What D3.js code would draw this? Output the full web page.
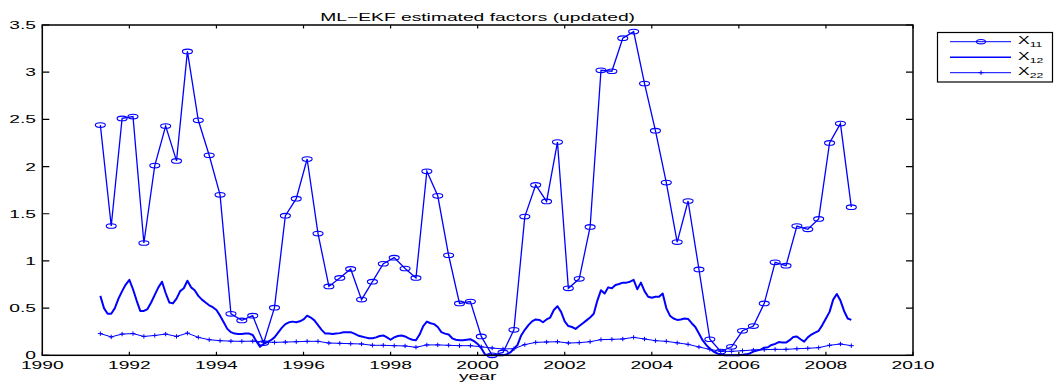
<!DOCTYPE html>
<html>
<head>
<meta charset="utf-8">
<script src="https://cdn.jsdelivr.net/npm/d3@7"></script>
<style>
  html, body { margin: 0; padding: 0; background: #fff; }
  svg { display: block; }
  text { font-family: "Liberation Sans", Arial, Helvetica, sans-serif; fill: #000; }
</style>
</head>
<body>
<svg id="chart" width="1055" height="383"></svg>
<script>
// Quarterly series (start May 1991, step one quarter)
const quarterStart = 1991 + 4 / 12;
const x11Values = [
  2.44, 1.37, 2.51, 2.53, 1.19, 2.01, 2.43, 2.06, 3.22, 2.49,
  2.12, 1.70, 0.44, 0.37, 0.42, 0.13, 0.505, 1.48, 1.66, 2.08,
  1.29, 0.73, 0.82, 0.915, 0.59, 0.78, 0.97, 1.035, 0.92, 0.82,
  1.95, 1.69, 1.06, 0.55, 0.57, 0.20, 0.0, 0.03, 0.27, 1.47,
  1.805, 1.63, 2.26, 0.71, 0.81, 1.36, 3.02, 3.01, 3.36, 3.43,
  2.88, 2.38, 1.83, 1.20, 1.635, 0.91, 0.17, 0.04, 0.09, 0.26,
  0.31, 0.55, 0.985, 0.95, 1.37, 1.335, 1.445, 2.25, 2.455, 1.57
];
const x22Values = [
  0.23, 0.195, 0.225, 0.23, 0.20, 0.21, 0.225, 0.20, 0.235, 0.19,
  0.165, 0.155, 0.15, 0.148, 0.15, 0.14, 0.137, 0.14, 0.144, 0.148,
  0.148, 0.13, 0.127, 0.123, 0.12, 0.106, 0.106, 0.102, 0.099, 0.085,
  0.11, 0.11, 0.106, 0.102, 0.102, 0.09, 0.077, 0.067, 0.07, 0.113,
  0.137, 0.141, 0.144, 0.13, 0.134, 0.144, 0.166, 0.169, 0.173, 0.19,
  0.173, 0.155, 0.148, 0.132, 0.116, 0.088, 0.063, 0.042, 0.042, 0.049,
  0.056, 0.06, 0.063, 0.063, 0.07, 0.074, 0.081, 0.106, 0.12, 0.102
];

// Monthly series (same start, step one month)
const monthStart = 1991 + 4 / 12;
const x12Values = [
  0.63, 0.50, 0.44, 0.44, 0.50, 0.60, 0.68, 0.75, 0.80, 0.70,
  0.58, 0.47, 0.47, 0.49, 0.56, 0.64, 0.72, 0.78, 0.66, 0.56,
  0.55, 0.60, 0.68, 0.71, 0.79, 0.72, 0.69, 0.63, 0.59, 0.56,
  0.53, 0.51, 0.48, 0.42, 0.35, 0.28, 0.245, 0.23, 0.225, 0.225,
  0.23, 0.23, 0.215, 0.15, 0.09, 0.12, 0.14, 0.16, 0.19, 0.24,
  0.29, 0.33, 0.35, 0.357, 0.35, 0.36, 0.38, 0.42, 0.40, 0.37,
  0.32, 0.27, 0.23, 0.23, 0.225, 0.23, 0.235, 0.245, 0.245, 0.245,
  0.23, 0.21, 0.20, 0.19, 0.18, 0.18, 0.19, 0.205, 0.21, 0.19,
  0.165, 0.19, 0.205, 0.21, 0.20, 0.18, 0.165, 0.16, 0.22, 0.31,
  0.357, 0.34, 0.33, 0.30, 0.245, 0.23, 0.22, 0.18, 0.165, 0.16,
  0.16, 0.165, 0.17, 0.15, 0.12, 0.075, 0.01, 0, 0, 0,
  0, 0, 0.01, 0.03, 0.07, 0.11, 0.21, 0.27, 0.32, 0.36,
  0.38, 0.375, 0.35, 0.38, 0.40, 0.48, 0.52, 0.46, 0.36, 0.31,
  0.30, 0.28, 0.31, 0.34, 0.37, 0.40, 0.44, 0.58, 0.69, 0.655,
  0.72, 0.71, 0.745, 0.755, 0.77, 0.77, 0.78, 0.80, 0.70, 0.77,
  0.68, 0.62, 0.61, 0.62, 0.62, 0.655, 0.50, 0.42, 0.39, 0.375,
  0.38, 0.39, 0.385, 0.34, 0.30, 0.23, 0.16, 0.11, 0.07, 0.04,
  0.02, 0.01, 0, 0, 0, 0, 0, 0.005, 0.01, 0.02,
  0.04, 0.05, 0.06, 0.08, 0.085, 0.11, 0.12, 0.14, 0.135, 0.135,
  0.16, 0.195, 0.20, 0.17, 0.145, 0.19, 0.22, 0.24, 0.26, 0.32,
  0.39, 0.46, 0.59, 0.65, 0.58, 0.47, 0.39, 0.375
];

const xTicks = [1990, 1992, 1994, 1996, 1998, 2000, 2002, 2004, 2006, 2008, 2010];
const yTicks = [0, 0.5, 1, 1.5, 2, 2.5, 3, 3.5];
const yTickLabels = ["0", "0.5", "1", "1.5", "2", "2.5", "3", "3.5"];
const legendLabels = [["X", "11"], ["X", "12"], ["X", "22"]];
const titleText = "ML\u2212EKF estimated factors (updated)";
const xLabelText = "year";

const blue = "#0000ff";
const stretch = 1.75;   // wide Helvetica-like lettering

const svg = d3.select("#chart");
const plot = { left: 42.3, right: 913, top: 25, bottom: 355.3 };

const x = d3.scaleLinear().domain([1990, 2010]).range([plot.left, plot.right]);
const y = d3.scaleLinear().domain([0, 3.5]).range([plot.bottom, plot.top]);

const quarterly = x11Values.map((v, i) => ({ t: quarterStart + i * 0.25, x11: v, x22: x22Values[i] }));
const monthly = x12Values.map((v, i) => ({ t: monthStart + i / 12, v }));

function wideText(parent, px, py, str, anchor, size) {
  return parent.append("text")
    .attr("transform", `translate(${px},${py}) scale(${stretch},1)`)
    .attr("text-anchor", anchor)
    .attr("font-size", size)
    .text(str);
}

// Series lines
const line = d3.line().x(d => x(d.t));

svg.append("path")
  .datum(monthly)
  .attr("fill", "none")
  .attr("stroke", blue)
  .attr("stroke-width", 2)
  .attr("stroke-linejoin", "round")
  .attr("d", line.y(d => y(d.v)));

svg.append("path")
  .datum(quarterly)
  .attr("fill", "none")
  .attr("stroke", blue)
  .attr("stroke-width", 1)
  .attr("d", d3.line().x(d => x(d.t)).y(d => y(d.x22)));

svg.append("g")
  .selectAll("path")
  .data(quarterly)
  .join("path")
  .attr("fill", "none")
  .attr("stroke", blue)
  .attr("stroke-width", 1)
  .attr("d", d => {
    const cx = x(d.t), cy = y(d.x22);
    return `M${cx - 2.5},${cy}H${cx + 2.5}M${cx},${cy - 2.2}V${cy + 2.2}`;
  });

svg.append("path")
  .datum(quarterly)
  .attr("fill", "none")
  .attr("stroke", blue)
  .attr("stroke-width", 1.3)
  .attr("d", d3.line().x(d => x(d.t)).y(d => y(d.x11)));

svg.append("g")
  .selectAll("ellipse")
  .data(quarterly)
  .join("ellipse")
  .attr("cx", d => x(d.t))
  .attr("cy", d => y(d.x11))
  .attr("rx", 5)
  .attr("ry", 2.3)
  .attr("fill", "none")
  .attr("stroke", blue)
  .attr("stroke-width", 1.1);

// Axes box with inward ticks on all four sides
const axes = svg.append("g").attr("stroke", "#000").attr("fill", "none");
axes.append("rect")
  .attr("x", plot.left).attr("y", plot.top)
  .attr("width", plot.right - plot.left).attr("height", plot.bottom - plot.top)
  .attr("stroke-width", 1.5);

axes.selectAll("path.xt")
  .data(xTicks)
  .join("path")
  .attr("class", "xt")
  .attr("stroke-width", 1.2)
  .attr("d", d => `M${x(d)},${plot.bottom}v-3.5M${x(d)},${plot.top}v3.5`);

axes.selectAll("path.yt")
  .data(yTicks)
  .join("path")
  .attr("class", "yt")
  .attr("stroke-width", 1.2)
  .attr("d", d => `M${plot.left},${y(d)}h7M${plot.right},${y(d)}h-7`);

// Tick labels
const labels = svg.append("g");
xTicks.forEach(t => wideText(labels, x(t), 368.5, String(t), "middle", 11));
yTicks.forEach((t, i) => wideText(labels, 36, y(t) + 4, yTickLabels[i], "end", 11));

// Title and axis label
wideText(svg, (plot.left + plot.right) / 2, 20.5, titleText, "middle", 11);
wideText(svg, (plot.left + plot.right) / 2, 380, xLabelText, "middle", 11);

// Legend
const legend = svg.append("g");
legend.append("rect")
  .attr("x", 937.5).attr("y", 32.5)
  .attr("width", 115).attr("height", 49.5)
  .attr("fill", "#fff")
  .attr("stroke", "#000")
  .attr("stroke-width", 1.2);

const rowsY = [41.7, 57.3, 72.7];
const lx0 = 950, lx1 = 1011, lmid = 981;

legend.append("line").attr("x1", lx0).attr("x2", lx1).attr("y1", rowsY[0]).attr("y2", rowsY[0])
  .attr("stroke", blue).attr("stroke-width", 1);
legend.append("ellipse").attr("cx", lmid).attr("cy", rowsY[0]).attr("rx", 4.5).attr("ry", 2.2)
  .attr("fill", "none").attr("stroke", blue).attr("stroke-width", 1.1);

legend.append("line").attr("x1", lx0).attr("x2", lx1).attr("y1", rowsY[1]).attr("y2", rowsY[1])
  .attr("stroke", blue).attr("stroke-width", 1.5);

legend.append("line").attr("x1", lx0).attr("x2", lx1).attr("y1", rowsY[2]).attr("y2", rowsY[2])
  .attr("stroke", blue).attr("stroke-width", 1);
legend.append("path")
  .attr("d", `M${lmid - 2.5},${rowsY[2]}H${lmid + 2.5}M${lmid},${rowsY[2] - 2.2}V${rowsY[2] + 2.2}`)
  .attr("stroke", blue).attr("fill", "none").attr("stroke-width", 1);

legendLabels.forEach((lab, i) => {
  const tx = legend.append("text")
    .attr("transform", `translate(1018,${rowsY[i] + 2.5}) scale(${stretch},1)`)
    .attr("font-size", 10);
  tx.append("tspan").text(lab[0]);
  tx.append("tspan").attr("font-size", 7).attr("dy", 3).text(lab[1]);
});
</script>
</body>
</html>
